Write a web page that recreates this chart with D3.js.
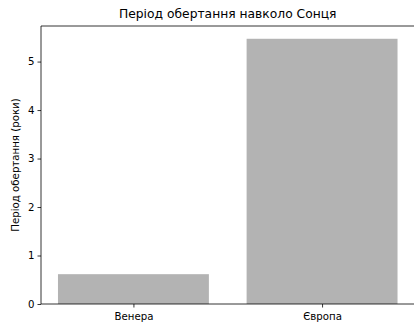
<!DOCTYPE html>
<html><head><meta charset="utf-8">
<script src="https://cdn.jsdelivr.net/npm/d3@7"></script>
<style>body{margin:0;background:#fff}svg{display:block}text{font-family:"DejaVu Sans",sans-serif}</style>
</head><body><svg id="c" width="414" height="322"></svg>
<script>
const categories = ["Венера", "Європа"];
const values = [0.615, 5.47];
const yTicks = [0, 1, 2, 3, 4, 5];
const title = "Період обертання навколо Сонця";
const yLabel = "Період обертання (роки)";

const W = 414, H = 322;
const m = {left: 41, right: -0.5, top: 26, bottom: 18};
const svg = d3.select("#c");
const x = d3.scaleLinear().domain([-0.49, 1.49]).range([m.left, W - m.right]);
const y = d3.scaleLinear().domain([0, 5.7335]).range([H - m.bottom, m.top]);

svg.append("g").selectAll("rect").data(values).join("rect")
  .attr("x", (d, i) => x(i - 0.4))
  .attr("width", (d, i) => x(i + 0.4) - x(i - 0.4))
  .attr("y", d => y(d))
  .attr("height", d => y(0) - y(d))
  .attr("fill", "#b3b3b3");

const xa = svg.append("g").attr("transform", `translate(0,${H - m.bottom})`)
  .call(d3.axisBottom(x).tickValues(categories.map((c, i) => i)).tickFormat(i => categories[i]).tickSize(3.5).tickSizeOuter(0));
const ya = svg.append("g").attr("transform", `translate(${m.left},0)`)
  .call(d3.axisLeft(y).tickValues(yTicks).tickFormat(d3.format("d")).tickSize(3.5).tickSizeOuter(0));
[xa, ya].forEach(a => {
  a.select(".domain").remove();
  a.selectAll("line").attr("stroke", "#000").attr("stroke-width", 0.8);
  a.selectAll("text").attr("font-size", 10.2).attr("fill", "#000").style("font-family", '"DejaVu Sans"');
});
xa.selectAll("text").attr("dy", "0.9em");
// spines (right spine falls outside the picture)
const sp = svg.append("g").attr("stroke", "#000").attr("stroke-width", 0.8).attr("fill", "none");
const x0 = x.range()[0], x1 = x.range()[1], y0 = y.range()[0], y1 = y.range()[1];
sp.append("line").attr("x1", x0).attr("x2", x0).attr("y1", y1).attr("y2", y0);
sp.append("line").attr("x1", x0).attr("x2", x1).attr("y1", y1).attr("y2", y1);
sp.append("line").attr("x1", x0).attr("x2", x1).attr("y1", y0).attr("y2", y0);

svg.append("text").attr("x", (m.left + W - m.right) / 2).attr("y", 17.5)
  .attr("text-anchor", "middle").attr("font-size", 12.3).attr("fill", "#000").text(title);
svg.append("text").attr("transform", `translate(19,${(m.top + H - m.bottom) / 2}) rotate(-90)`)
  .attr("text-anchor", "middle").attr("font-size", 10.2).attr("fill", "#000").text(yLabel);
</script></body></html>
